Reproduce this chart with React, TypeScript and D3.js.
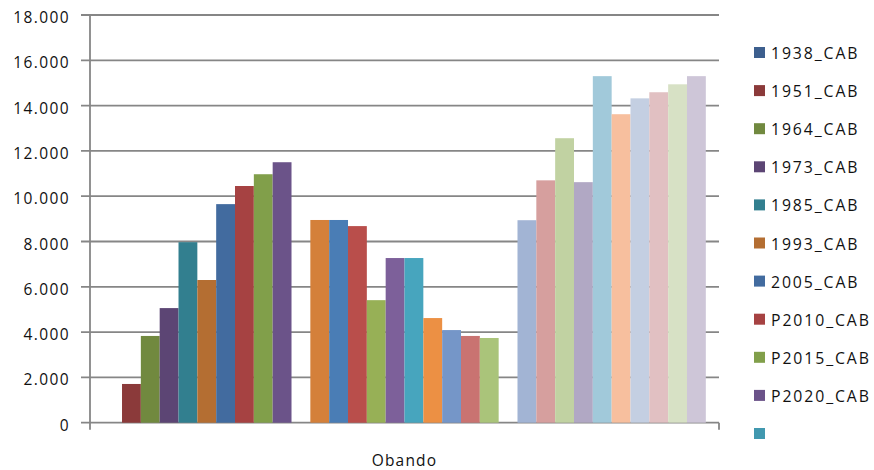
import React from "react";
import * as d3 from "d3";

const categories = ["Obando"];
const seriesNames = [
  "1938_CAB", "1951_CAB", "1964_CAB", "1973_CAB", "1985_CAB", "1993_CAB",
  "2005_CAB", "P2010_CAB", "P2015_CAB", "P2020_CAB", "",
];
const seriesValues = [
  0, 1710, 3830, 5060, 7970, 6300, 9650, 10450, 10970, 11500,
  0, 8950, 8950, 8680, 5410, 7270, 7270, 4620, 4090, 3830, 3740,
  0, 8940, 10700, 12560, 10620, 15300, 13620, 14320, 14590, 14940, 15300,
];
const seriesColors = [
  "#3D5F8E", "#8B3A3A", "#71893F", "#5C4574", "#327F8F", "#B46E32",
  "#426B9F", "#A64242", "#819F4A", "#6B5389", "#4198AF", "#D4803A",
  "#4A7DB5", "#B94E4B", "#97B056", "#7D609A", "#47A5BE", "#EC9044",
  "#7596C8", "#C97371", "#AAC47A", "#9D8AB4", "#A2B4D4", "#D69F9E",
  "#C1D2A2", "#B1A8C4", "#A1C9DA", "#F7BF9E", "#C4CFE2", "#E1C0C2",
  "#D7E1C5", "#CEC6D8",
];
const yTicks = [0, 2000, 4000, 6000, 8000, 10000, 12000, 14000, 16000, 18000];

const W = 874;
const H = 470;
const left = 90;
const right = 719;
const top = 15;
const bottom = 422.7;
const FONT = "'Open Sans', sans-serif";
const GRID = "#868686";

const fmt = (v: number) => (v === 0 ? "0" : `${Math.floor(v / 1000)}.${String(v % 1000).padStart(3, "0")}`);

export default function App() {
  const x0 = d3.scaleBand<string>().domain(categories).range([left, right]).padding(0);
  const idx = seriesValues.map((_, i) => String(i));
  const x1 = d3
    .scaleBand<string>()
    .domain(idx)
    .range([0, x0.bandwidth()])
    .paddingInner(0)
    .paddingOuter(0.7);
  const y = d3.scaleLinear().domain([0, 18000]).range([bottom, top]);

  return (
    <svg
      width={W}
      height={H}
      style={{ position: "absolute", left: 0, top: 0, background: "#fff" }}
      fontFamily={FONT}
    >
      {yTicks.map((t) => (
        <g key={t}>
          <line x1={left - 9} x2={right} y1={y(t)} y2={y(t)} stroke={GRID} strokeWidth={1.8} />
          <text
            x={70}
            y={y(t) + 2}
            textAnchor="end"
            dominantBaseline="central"
            fontSize={15.5}
            letterSpacing={1.4}
            fill="#111"
          >
            {fmt(t)}
          </text>
        </g>
      ))}
      <line x1={left} x2={left} y1={top} y2={bottom + 7} stroke={GRID} strokeWidth={1.8} />
      <line x1={right} x2={right} y1={bottom} y2={bottom + 7} stroke={GRID} strokeWidth={1.8} />
      {categories.map((c) => (
        <g key={c}>
          {seriesValues.map((v, i) => (
            <rect
              key={i}
              x={(x0(c) as number) + (x1(String(i)) as number)}
              y={y(v)}
              width={x1.bandwidth()}
              height={bottom - y(v)}
              fill={seriesColors[i]}
            />
          ))}
          <text
            x={(x0(c) as number) + x0.bandwidth() / 2}
            y={466}
            textAnchor="middle"
            fontSize={15.5}
            letterSpacing={1.2}
            fill="#111"
          >
            {c}
          </text>
        </g>
      ))}
      {seriesNames.map((n, i) => {
        const cy = 52.5 + i * 38.1;
        return (
          <g key={i}>
            <rect x={754} y={cy - 5.5} width={11} height={11} fill={seriesColors[i]} />
            <text
              x={771}
              y={cy + 0.5}
              dominantBaseline="central"
              fontSize={15.8}
              letterSpacing={1.9}
              fill="#111"
            >
              {n}
            </text>
          </g>
        );
      })}
    </svg>
  );
}
